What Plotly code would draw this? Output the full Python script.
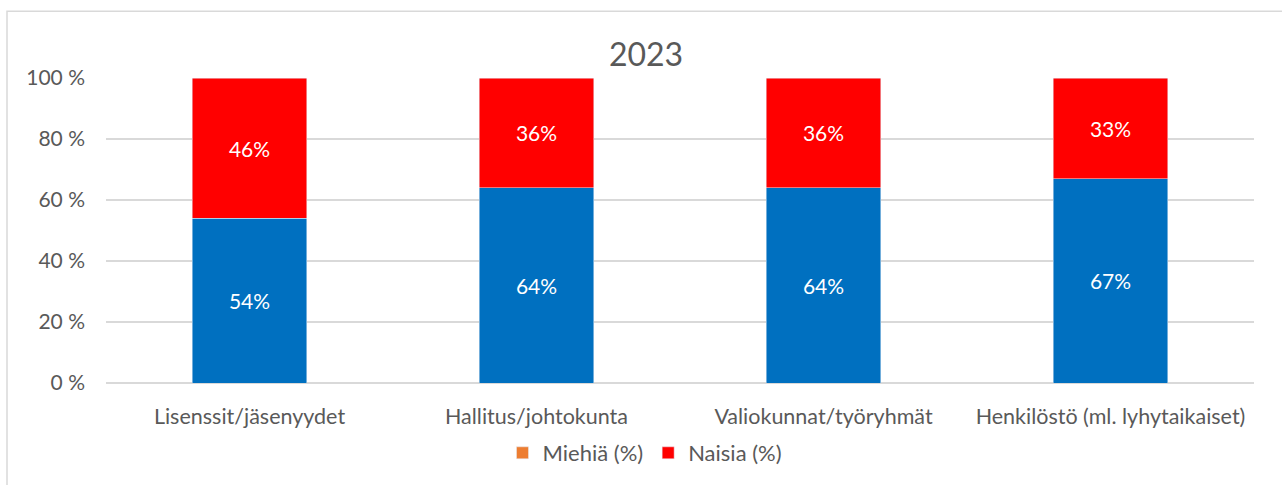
import plotly.graph_objects as go

categories = ["Lisenssit/jäsenyydet", "Hallitus/johtokunta", "Valiokunnat/työryhmät", "Henkilöstö (ml. lyhytaikaiset)"]
miehia = [54, 64, 64, 67]
naisia = [46, 36, 36, 33]
y_ticks = [0, 20, 40, 60, 80, 100]
y_tick_labels = ["0 %", "20 %", "40 %", "60 %", "80 %", "100 %"]

FONT = "Lato, Open Sans, sans-serif"
TXT = "#595959"

fig = go.Figure()
fig.add_trace(go.Bar(
    x=categories, y=miehia, name="Miehiä (%)", marker_color="#0070C0",
    showlegend=False, texttemplate="%{y}%", textposition="inside",
    insidetextanchor="middle", textfont=dict(color="white", size=21, family=FONT),
    hoverinfo="skip",
))
fig.add_trace(go.Bar(
    x=categories, y=naisia, name="Naisia (%)", marker_color="#FF0000",
    showlegend=False, texttemplate="%{y}%", textposition="inside",
    insidetextanchor="middle", textfont=dict(color="white", size=21, family=FONT),
    hoverinfo="skip",
))
# legend entries (legend colours as in the original)
fig.add_trace(go.Bar(x=[categories[0]], y=[None], name="Miehiä (%)", marker_color="#ED7D31"))
fig.add_trace(go.Bar(x=[categories[0]], y=[None], name="Naisia (%)", marker_color="#FF0000"))

fig.update_layout(
    width=1282, height=485,
    barmode="stack", bargap=0.6,
    paper_bgcolor="white", plot_bgcolor="white",
    margin=dict(l=106, r=28, t=78, b=101),
    font=dict(family=FONT, color=TXT, size=21),
    title=dict(text="2023", x=(646 / 1282), xanchor="center", y=1 - 55 / 485, yanchor="middle",
               yref="container", font=dict(size=32, color=TXT, family=FONT)),
    legend=dict(orientation="h", x=0.4695, xanchor="center", y=-0.2255, yanchor="middle",
                font=dict(size=22, color=TXT, family=FONT), traceorder="normal",
                itemwidth=30),
    showlegend=True,
)
fig.update_xaxes(showgrid=False, showline=False, ticks="", ticklabelstandoff=18,
                 tickfont=dict(size=21.5, color=TXT, family=FONT))
fig.update_yaxes(range=[0, 100], tickvals=y_ticks, ticktext=y_tick_labels,
                 showgrid=True, gridcolor="#d9d9d9", gridwidth=1.5, zeroline=True,
                 zerolinecolor="#d9d9d9", zerolinewidth=1.5, showline=False,
                 ticks="", ticklabelstandoff=20,
                 tickfont=dict(size=21, color=TXT, family=FONT))
fig.add_shape(type="rect", xref="paper", yref="paper",
              x0=(7 - 106) / 1148, x1=1.1, y0=-0.5, y1=1 + (78 - 11) / 306,
              line=dict(color="#d9d9d9", width=1.5), fillcolor="rgba(0,0,0,0)", layer="below")

fig.write_html("out.html")
